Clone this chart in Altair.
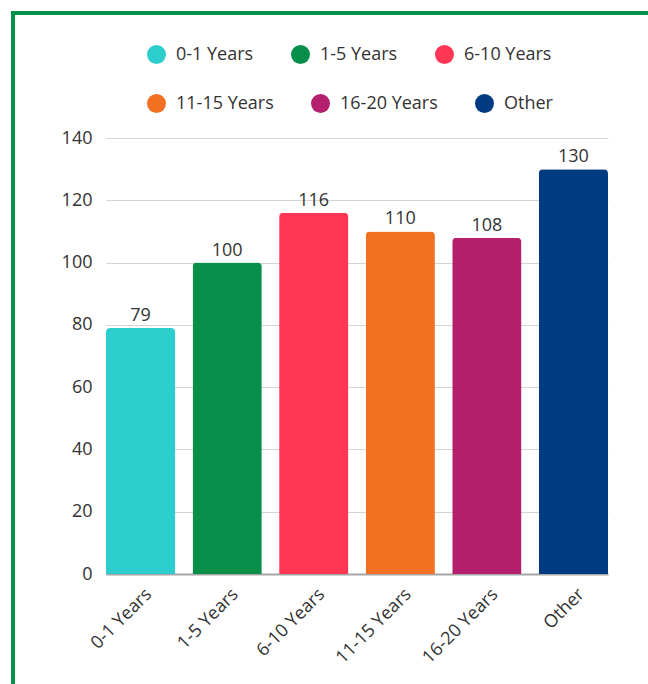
import altair as alt
import pandas as pd

categories = ["0-1 Years", "1-5 Years", "6-10 Years", "11-15 Years", "16-20 Years", "Other"]
values = [79, 100, 116, 110, 108, 130]
colors = ["#2ECDCD", "#078F4A", "#FF3654", "#F36F22", "#B41F6E", "#003A80"]
legend_row1 = categories[:3]
legend_row2 = categories[3:]

df = pd.DataFrame({"category": categories, "value": values})

FONT = "Open Sans"
TXT = "#333333"
BORDER = "#07904A"

color_scale = alt.Scale(domain=categories, range=colors)


def legend(vals, y):
    return alt.Legend(title=None, orient="none", legendX=41, legendY=y,
                      direction="horizontal", values=vals,
                      symbolType="circle", symbolSize=361, symbolStrokeWidth=0,
                      symbolOpacity=1,
                      labelFont=FONT, labelFontSize=18, labelColor=TXT,
                      labelOffset=10, columnPadding=37, padding=0)


x_enc = alt.X("category:N", sort=categories,
              scale=alt.Scale(paddingInner=0.2, paddingOuter=0),
              axis=alt.Axis(title=None, labelAngle=-45, labelAlign="right", labelBaseline="top",
                            labelPadding=11, labelOffset=2, ticks=False, domain=True,
                            domainColor="#A6A6A6", domainWidth=2, labelFont=FONT,
                            labelFontSize=18, labelColor=TXT))
y_enc = alt.Y("value:Q", scale=alt.Scale(domain=[0, 140], nice=False),
              axis=alt.Axis(title=None, values=[0, 20, 40, 60, 80, 100, 120, 140], ticks=False,
                            domain=False, labelPadding=14, gridColor="#D4D4D4", gridWidth=1,
                            labelFont=FONT, labelFontSize=18, labelColor=TXT))

base = alt.Chart(df)

bars = base.mark_bar(cornerRadiusTopLeft=4, cornerRadiusTopRight=4).encode(
    x=x_enc,
    y=y_enc,
    color=alt.Color("category:N", scale=color_scale, sort=categories,
                    legend=legend(legend_row1, -93)),
)

# invisible copy of the bars that carries the second legend row
bars_row2 = base.mark_bar(opacity=0).encode(
    x=alt.X("category:N", sort=categories),
    y="value:Q",
    color=alt.Color("category:N", scale=color_scale, sort=categories,
                    legend=legend(legend_row2, -44)),
)

labels = base.mark_text(font=FONT, fontSize=18, color=TXT, baseline="alphabetic", dy=-7).encode(
    x=alt.X("category:N", sort=categories),
    y="value:Q",
    text="value:Q",
)

top_border = alt.Chart(df).mark_rule(color=BORDER, strokeWidth=4).encode(
    x=alt.value(-95), x2=alt.value(700), y=alt.value(-125)
)
left_border = alt.Chart(df).mark_rule(color=BORDER, strokeWidth=4).encode(
    x=alt.value(-93), y=alt.value(-127), y2=alt.value(700)
)

chart = alt.layer(bars, bars_row2, labels, top_border, left_border).resolve_scale(
    color="independent"
).properties(
    width=502, height=436,
    autosize=alt.AutoSizeParams(type="none"),
    padding={"left": 106, "top": 138, "right": 40, "bottom": 110},
    background="white",
).configure_view(stroke=None)

chart.save("out.html", embed_options={"renderer": "svg", "actions": False})
